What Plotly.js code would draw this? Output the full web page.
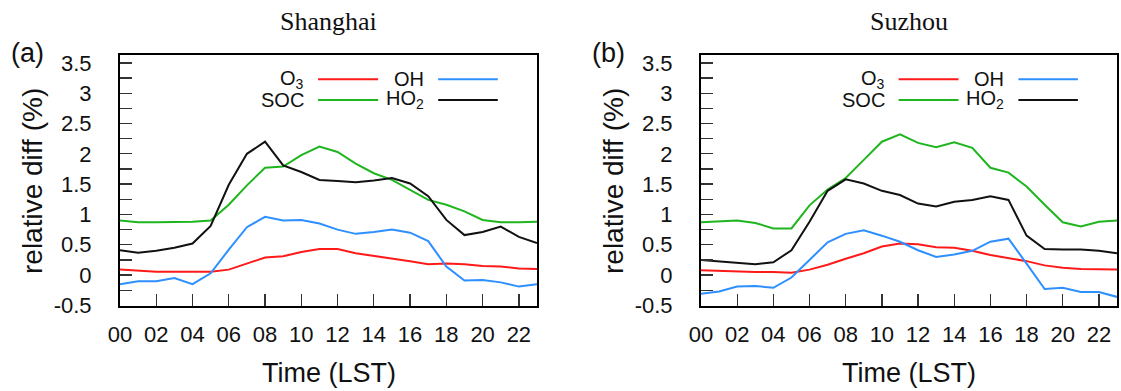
<!DOCTYPE html>
<html>
<head>
<meta charset="utf-8">
<script src="https://cdn.plot.ly/plotly-3.0.1.min.js"></script>
<style>html,body{margin:0;padding:0;background:#fff;}#chart{width:1121px;height:391px;}</style>
</head>
<body>
<div id="chart"></div>
<script>
const hours = [0,1,2,3,4,5,6,7,8,9,10,11,12,13,14,15,16,17,18,19,20,21,22,23];
const xTickVals = [0,2,4,6,8,10,12,14,16,18,20,22];
const xTickText = ["00","02","04","06","08","10","12","14","16","18","20","22"];
const yTickVals = [-0.5,0,0.5,1,1.5,2,2.5,3,3.5];
const yTickText = ["-0.5","0","0.5","1","1.5","2","2.5","3","3.5"];
const panelTitles = ["Shanghai","Suzhou"];
const panelLabels = ["(a)","(b)"];
const seriesNames = ["O<sub>3</sub>","OH","SOC","HO<sub>2</sub>"];

// Shanghai
const shO3  = [0.09,0.07,0.055,0.055,0.055,0.055,0.09,0.19,0.29,0.31,0.38,0.43,0.43,0.36,0.32,0.28,0.23,0.18,0.19,0.18,0.15,0.14,0.11,0.10];
const shOH  = [-0.15,-0.10,-0.10,-0.05,-0.15,0.03,0.42,0.79,0.96,0.90,0.91,0.85,0.75,0.68,0.71,0.75,0.70,0.56,0.14,-0.09,-0.08,-0.12,-0.19,-0.15];
const shSOC = [0.90,0.87,0.87,0.87,0.88,0.90,1.16,1.48,1.77,1.79,1.98,2.12,2.03,1.84,1.68,1.57,1.40,1.24,1.16,1.05,0.91,0.87,0.87,0.88];
const shHO2 = [0.41,0.37,0.40,0.45,0.52,0.81,1.49,2.00,2.20,1.81,1.70,1.57,1.55,1.53,1.56,1.60,1.51,1.30,0.91,0.66,0.71,0.80,0.63,0.53];

// Suzhou
const szO3  = [0.08,0.07,0.055,0.05,0.05,0.04,0.09,0.17,0.27,0.36,0.47,0.52,0.51,0.46,0.45,0.40,0.33,0.28,0.23,0.16,0.12,0.10,0.10,0.09];
const szOH  = [-0.31,-0.27,-0.19,-0.18,-0.21,-0.04,0.25,0.54,0.68,0.74,0.65,0.55,0.41,0.30,0.34,0.40,0.55,0.60,0.19,-0.23,-0.21,-0.28,-0.28,-0.36];
const szSOC = [0.87,0.88,0.90,0.86,0.77,0.77,1.15,1.41,1.60,1.90,2.20,2.32,2.18,2.11,2.19,2.10,1.77,1.69,1.46,1.16,0.87,0.80,0.88,0.90];
const szHO2 = [0.25,0.23,0.20,0.18,0.21,0.41,0.88,1.39,1.58,1.51,1.39,1.32,1.18,1.13,1.21,1.24,1.30,1.24,0.65,0.43,0.42,0.42,0.40,0.36];

const colors = ["#ff1a1a","#2e8fff","#1fb51f","#111111"];

const W = 1121, H = 391;
const px = v => v / W;
const py = v => 1 - v / H;

const panels = [
  {data:[shO3,shOH,shSOC,shHO2], xa:"x", ya:"y", left:120, right:537},
  {data:[szO3,szOH,szSOC,szHO2], xa:"x2", ya:"y2", left:701, right:1117}
];

const traces = [];
panels.forEach(p => {
  p.data.forEach((s, i) => {
    traces.push({x:hours, y:s, type:"scatter", mode:"lines", name:seriesNames[i],
      xaxis:p.xa, yaxis:p.ya, showlegend:false,
      line:{color:colors[i], width:2}});
  });
});

const sans = "Liberation Sans, Arial, Helvetica, sans-serif";
const yTop = 55, yBot = 306;

function xaxis(p) {
  return {domain:[px(p.left), px(p.right)], range:[0,23], showline:true, mirror:true,
    linecolor:"#000", linewidth:2, showgrid:false, zeroline:false,
    ticks:"inside", ticklen:12, tickwidth:1.3, tickcolor:"#333",
    tickvals:xTickVals, ticktext:xTickText, ticklabelstandoff:8,
    tickfont:{family:sans, size:22, color:"#111"}, fixedrange:true};
}
function yaxis(p, anchor) {
  return {domain:[py(yBot), py(yTop)], range:[-0.51,3.63], anchor:anchor, showline:true, mirror:true,
    linecolor:"#000", linewidth:2, showgrid:false, zeroline:false,
    ticks:"inside", ticklen:12, tickwidth:1.3, tickcolor:"#333",
    tickvals:yTickVals, ticktext:yTickText, ticklabelstandoff:22,
    minor:{tickvals:[-0.25,0.25,0.75,1.25,1.75,2.25,2.75,3.25], ticks:"inside", ticklen:12, tickwidth:1.3, tickcolor:"#333"},
    tickfont:{family:sans, size:22, color:"#111"}, fixedrange:true};
}

const annotations = [];
const shapes = [];
panels.forEach((p, k) => {
  const cx = (p.left + p.right) / 2;
  annotations.push({xref:"paper", yref:"paper", x:px(cx), y:py(22), xanchor:"center", yanchor:"middle",
    text:panelTitles[k], showarrow:false, font:{family:"Liberation Serif, Times New Roman, serif", size:26, color:"#111"}});
  annotations.push({xref:"paper", yref:"paper", x:px(p.left - 93), y:py(53), xanchor:"center", yanchor:"middle",
    text:panelLabels[k], showarrow:false, font:{family:sans, size:27, color:"#111"}});
  annotations.push({xref:"paper", yref:"paper", x:px(p.left - 88), y:py(181), xanchor:"center", yanchor:"middle",
    textangle:-90, text:"relative diff (%)", showarrow:false, font:{family:sans, size:28, color:"#111"}});
  annotations.push({xref:"paper", yref:"paper", x:px(cx), y:py(373), xanchor:"center", yanchor:"middle",
    text:"Time (LST)", showarrow:false, font:{family:sans, size:27, color:"#111"}});
  // legend
  const xr = p.xa + " domain", yr = p.ya + " domain";
  const rowY = [0.903, 0.821];
  const lineX = [[0.475,0.619],[0.763,0.906]];
  const textX = [0.447, 0.733];
  const order = [[0,1],[2,3]];
  order.forEach((row, r) => {
    row.forEach((si, c) => {
      shapes.push({type:"line", xref:xr, yref:yr, x0:lineX[c][0], x1:lineX[c][1], y0:rowY[r], y1:rowY[r],
        line:{color:colors[si], width:2}});
      annotations.push({xref:xr, yref:yr, x:textX[c], y:rowY[r], xanchor:"right", yanchor:"middle",
        text:seriesNames[si], showarrow:false, font:{family:sans, size:20, color:"#111"}});
    });
  });
});

const layout = {
  width:W, height:H, margin:{l:0,r:0,t:0,b:0}, paper_bgcolor:"#fff", plot_bgcolor:"#fff",
  showlegend:false,
  xaxis:xaxis(panels[0]), yaxis:yaxis(panels[0],"x"),
  xaxis2:xaxis(panels[1]), yaxis2:yaxis(panels[1],"x2"),
  annotations:annotations, shapes:shapes
};
layout.xaxis.anchor = "y";
layout.xaxis2.anchor = "y2";

Plotly.newPlot("chart", traces, layout, {displayModeBar:false, staticPlot:true});
</script>
</body>
</html>
